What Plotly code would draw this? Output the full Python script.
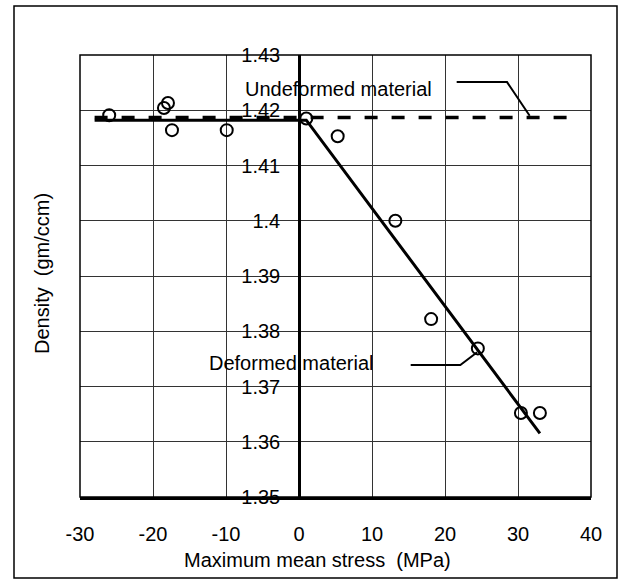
import plotly.graph_objects as go

# Measured data
stress = [-26.0, -18.5, -17.95, -17.4, -9.9, 1.0, 5.3, 13.2, 18.1, 24.5, 30.4, 33.0]
density = [1.4191, 1.4204, 1.4213, 1.4164, 1.4164, 1.4185, 1.4153, 1.4000, 1.3822, 1.3769, 1.3652, 1.3652]

undeformed_x = [-28.0, 37.5]
undeformed_y = [1.4187, 1.4187]

deformed_x = [-28.0, 1.0, 33.0]
deformed_y = [1.4182, 1.4182, 1.3615]

x_ticks = [-30, -20, -10, 0, 10, 20, 30, 40]
y_ticks = [1.35, 1.36, 1.37, 1.38, 1.39, 1.40, 1.41, 1.42, 1.43]
y_ticktext = ["1.35", "1.36", "1.37", "1.38", "1.39", "1.4", "1.41", "1.42", "1.43"]

# annotation leader lines (data coords)
und_leader_x = [21.6, 28.5, 31.6]
und_leader_y = [1.4251, 1.4251, 1.4190]
def_leader_x = [15.3, 22.1, 24.4]
def_leader_y = [1.3739, 1.3739, 1.3762]

FONT = "Liberation Sans, Arial, sans-serif"
FS = 20

fig = go.Figure()

fig.add_trace(go.Scatter(x=undeformed_x, y=undeformed_y, mode="lines",
                         line=dict(color="black", width=3.5, dash="13px,14px"),
                         hoverinfo="skip", showlegend=False))
fig.add_trace(go.Scatter(x=deformed_x, y=deformed_y, mode="lines",
                         line=dict(color="black", width=3),
                         hoverinfo="skip", showlegend=False))
fig.add_trace(go.Scatter(x=und_leader_x, y=und_leader_y, mode="lines",
                         line=dict(color="black", width=2),
                         hoverinfo="skip", showlegend=False))
fig.add_trace(go.Scatter(x=def_leader_x, y=def_leader_y, mode="lines",
                         line=dict(color="black", width=2),
                         hoverinfo="skip", showlegend=False))
fig.add_trace(go.Scatter(x=stress, y=density, mode="markers",
                         marker=dict(symbol="circle-open", size=12, color="black",
                                     line=dict(width=2, color="black")),
                         showlegend=False))

fig.update_layout(
    width=621, height=584,
    margin=dict(l=80, r=30, t=55, b=87),
    paper_bgcolor="white", plot_bgcolor="white",
    font=dict(family=FONT, size=FS, color="black"),
    xaxis=dict(range=[-30, 40], tickvals=x_ticks, ticktext=[str(v) for v in x_ticks],
               showgrid=True, gridcolor="#333", gridwidth=1,
               zeroline=False, showline=True, linecolor="black", linewidth=3,
               ticks="", ticklabelstandoff=17,
               tickfont=dict(family=FONT, size=FS, color="black")),
    yaxis=dict(range=[1.35, 1.43], tickvals=y_ticks, ticktext=y_ticktext,
               showgrid=True, gridcolor="#333", gridwidth=1,
               zeroline=False, showline=True, linecolor="black", linewidth=2.5,
               anchor="free", position=30 / 70, side="left",
               ticks="", ticklabelstandoff=14,
               tickfont=dict(family=FONT, size=FS, color="black")),
    annotations=[
        dict(text="Maximum mean stress  (MPa)", xref="paper", yref="paper",
             x=(317 - 80) / 511, y=-0.143, xanchor="center", yanchor="middle", showarrow=False,
             font=dict(family=FONT, size=FS)),
        dict(text="Density  (gm/ccm)", xref="paper", yref="paper",
             x=-0.074, y=0.505, xanchor="center", yanchor="middle", textangle=-90,
             showarrow=False, font=dict(family=FONT, size=FS)),
        dict(text="Undeformed material", xref="x", yref="y", x=-7.7, y=1.4238,
             xanchor="left", yanchor="middle", showarrow=False,
             font=dict(family=FONT, size=FS)),
        dict(text="Deformed material", xref="x", yref="y", x=-12.6, y=1.3742,
             xanchor="left", yanchor="middle", showarrow=False,
             font=dict(family=FONT, size=FS)),
    ],
    shapes=[
        dict(type="rect", xref="paper", yref="paper", x0=0, y0=0, x1=1, y1=1,
             line=dict(color="black", width=1.5), layer="above"),
        dict(type="rect", xref="paper", yref="paper",
             x0=(14 - 80) / 511, x1=(617 - 80) / 511,
             y0=(497 - 578) / 442, y1=(497 - 6) / 442,
             line=dict(color="black", width=1.5), layer="above"),
    ],
)

fig.write_html("out.html")
